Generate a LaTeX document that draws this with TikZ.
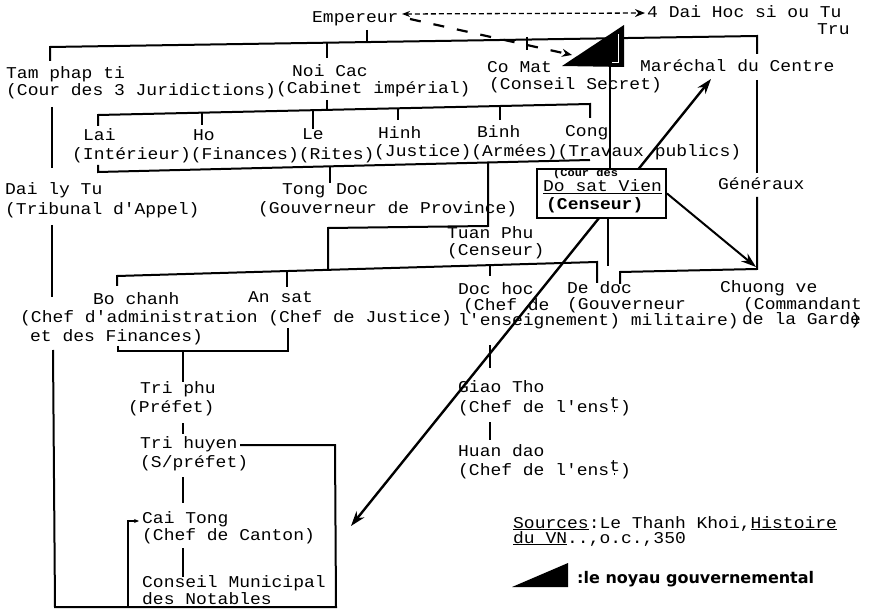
\documentclass[tikz,border=0pt]{standalone}
\usepackage{fontspec}
\usetikzlibrary{arrows.meta}
\newfontfamily\tw{Liberation Mono}[FakeStretch=1.09]
\newfontfamily\hw{DejaVu Sans}
\newcommand\twf{\tw\fontsize{16.5}{18}\selectfont}
\newcommand\enst{l'ens\rlap{\hspace{0.27em}\rule{1.7pt}{1.7pt}}\raisebox{0.45ex}{t}}
\begin{document}
\begin{tikzpicture}[x=1pt,y=-1pt,
  t/.style={font=\twf, inner sep=0pt, anchor=base west},
  bus/.style={line width=2pt},
  tk/.style={line width=1.2pt},
  thk/.style={line width=2.6pt},
  tip/.style={-{Stealth[length=15pt,width=10pt]}},
]
\useasboundingbox (0,0) rectangle (884,612);
\fill[white] (0,0) rectangle (884,612);

% ---------- texts ----------
\node[t] (emp) at (312,23) {Empereur};
\node[t] (dai) at (647,18) {4 Dai Hoc si ou Tu};
\node[t] (tru) at (817,35) {Tru};
\node[t] (tam) at (6,79) {Tam phap ti};
\node[t] (noi) at (292,77) {Noi Cac};
\node[t] (com) at (487,73) {Co Mat};
\node[t] (mar) at (640,72) {Maréchal du Centre};
\node[t] (tamf) at (6,96) {(Cour des 3 Juridictions)};
\node[t] (noif) at (276,94) {(Cabinet impérial)};
\node[t] (comf) at (489,90) {(Conseil Secret)};

\node[t] (lai) at (83,141) {Lai};
\node[t] (ho) at (193,141) {Ho};
\node[t] (le) at (302,140) {Le};
\node[t] (hinh) at (378,139) {Hinh};
\node[t] (binh) at (477,138) {Binh};
\node[t] (cong) at (565,137) {Cong};
\node[t] (minA) at (72,160) {(Intérieur)(Finances)(Rites)};
\node[t] (minB) at (374,157) {(Justice)(Armées)(Travaux publics)};

\node[t] (dly) at (5,195) {Dai ly Tu};
\node[t] (dlyf) at (5,215) {(Tribunal d'Appel)};
\node[t] (tong) at (282,195) {Tong Doc};
\node[t] (tongf) at (258,214) {(Gouverneur de Province)};
\node[t] (tuan) at (447,239) {Tuan Phu};
\node[t] (tuanf) at (447,256) {(Censeur)};
\node[t] (gen) at (718,190) {Généraux};

\node[t] (bo) at (93,305) {Bo chanh};
\node[t] (an) at (248,303) {An sat};
\node[t] (boan) at (20,323) {(Chef d'administration (Chef de Justice)};
\node[t] (bof) at (30,342) {et des Finances)};
\node[t] (doc) at (458,295) {Doc hoc};
\node[t] (de) at (567,294) {De doc};
\node[t] (chu) at (720,293) {Chuong ve};
\node[t] (docf) at (463,311) {(Chef de};
\node[t] (def) at (567,310) {(Gouverneur};
\node[t] (chuf) at (743,310) {(Commandant};
\node[t] (docg) at (458,326) {l'enseignement) militaire)};
\node[t] (chug) at (742,325) {de la Gard\rlap{e})};

\node[t] (giao) at (458,392) {Giao Tho};
\node[t] (giaof) at (458,412) {(Chef de \enst)};
\node[t] (huan) at (458,456) {Huan dao};
\node[t] (huanf) at (458,475) {(Chef de \enst)};

\node[t] (tp) at (140,393) {Tri phu};
\node[t] (tpf) at (128,412) {(Préfet)};
\node[t] (th) at (140,448) {Tri huyen};
\node[t] (thf) at (140,467) {(S/préfet)};
\node[t] (ct) at (142,523) {Cai Tong};
\node[t] (ctf) at (142,540) {(Chef de Canton)};
\node[t] (cm) at (142,587) {Conseil Municipal};
\node[t] (cmf) at (142,604) {des Notables};

\node[t] (src) at (513,528) {\underline{Sources}:Le Thanh Khoi,\underline{Histoire}};
\node[t] (srcb) at (513,543) {\underline{du VN}..,o.c.,350};
\node[font=\hw\bfseries\fontsize{16}{18}\selectfont, inner sep=0pt, anchor=base west] (noy) at (577,583) {:le noyau gouvernemental};

% ---------- top structure ----------
\draw[bus] (50,61) -- (50,47) -- (757,36) -- (757,54);
\draw[tk] (367,30) -- (367,42);
\draw[tk] (327,43) -- (327,58);
\draw[tk] (527,37) -- (527,50);

\coordinate (dl) at (402,14);
\coordinate (dr) at (645,13);
\draw[line width=1.3pt, dash pattern=on 5pt off 3pt,
  {Stealth[length=8pt,width=6pt]}-{Stealth[length=10pt,width=8pt]}] (dl) -- (dr);
\coordinate (el) at (410,19);
\coordinate (er) at (572,55);
\draw[line width=2.2pt, dash pattern=on 11pt off 13pt, -{Stealth[length=10pt,width=8pt]}] (el) -- (er);

% ministries
\draw[bus] (98,126) -- (98,115) -- (590,104) -- (590,118);
\draw[tk] (327,100) -- (327,110);
\draw[tk] (202,113) -- (202,125);
\draw[thk] (313,110) -- (313,129);
\draw[tk] (398,108) -- (398,120);
\draw[tk] (500,106) -- (500,120);
\draw[bus] (98,165) -- (98,172) -- (590,160);
\draw[tk] (330,166) -- (330,183);
\draw[bus] (488,162) -- (488,226) -- (328,228) -- (328,270);

% provincial bus
\draw[bus] (117,286) -- (117,276) -- (597,262) -- (597,283);
\draw[tk] (287,271) -- (287,287);
\draw[tk] (490,265) -- (490,276);

% Bo chanh / An sat
\draw[bus] (118,346) -- (118,351) -- (288,351) -- (288,328);
\draw[thk] (183,351) -- (183,382);
\draw[thk] (183,423) -- (183,434);
\draw[thk] (183,477) -- (183,503);
\draw[thk] (183,548) -- (183,577);

% left judicial line
\draw[bus] (52,107) -- (52,168);
\draw[bus] (52,225) -- (52,297);
\draw[bus] (53,350) -- (55,607) -- (336,607) -- (335,445) -- (240,445);
\draw[tk, -{Stealth[length=5pt,width=4pt]}] (128,607) -- (128,521) -- (139,521);

% education
\draw[tk] (490,345) -- (490,368);
\draw[tk] (490,422) -- (490,440);

% right military column
\draw[bus] (757,80) -- (757,173);
\draw[bus] (757,197) -- (757,269) -- (620,272) -- (620,284);
\draw[tk] (610,67) -- (610,169);
\draw[tk] (608,218) -- (608,266);

% long censor diagonal
\coordinate (ctTip) at (351,526);
\coordinate (maTip) at (711,79);
\draw[line width=2.4pt, {Stealth[length=15pt,width=10pt]}-{Stealth[length=15pt,width=10pt]}] (ctTip) -- (maTip);

% Do sat Vien box
\node[draw, line width=2pt, fill=white, minimum width=129pt, minimum height=49pt, inner sep=0pt] (dsv) at (601.5,193.5) {};
\node[font=\tw\bfseries\fontsize{11}{12}\selectfont, inner sep=0pt, anchor=base west] (dsvc) at (553,177) {(Cour des};
\node[t] (dsvn) at (543,192) {\underline{Do sat Vien}};
\node[font=\tw\bfseries\fontsize{16.5}{18}\selectfont, inner sep=0pt, anchor=base west] (dsvf) at (546,210) {(Censeur)};
\coordinate (gTip) at (756,267);
\draw[line width=2pt, tip] (dsv.east) -- (gTip);

% noyau triangle
\fill (562,66) -- (624,25) -- (624,67) -- cycle;
\draw[white, line width=1pt] (612,63) -- (618,63) -- (618,34);
\fill (512,587) -- (568,563) -- (568,587) -- cycle;
\end{tikzpicture}
\end{document}
